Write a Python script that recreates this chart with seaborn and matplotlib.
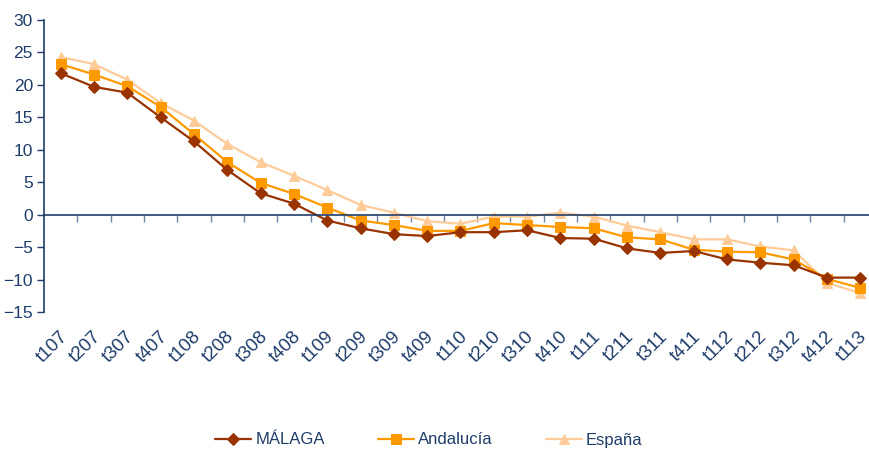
import matplotlib
matplotlib.use("Agg")
import matplotlib.pyplot as plt
import matplotlib.transforms as mtransforms
import pandas as pd
import seaborn as sns

# quarters on the x axis
periods = ["t107", "t207", "t307", "t407", "t108", "t208", "t308", "t408",
           "t109", "t209", "t309", "t409", "t110", "t210", "t310", "t410",
           "t111", "t211", "t311", "t411", "t112", "t212", "t312", "t412", "t113"]

malaga = [21.8, 19.7, 18.8, 15.0, 11.3, 6.9, 3.3, 1.7, -0.9, -2.1, -3.0, -3.3, -2.7,
          -2.7, -2.4, -3.6, -3.7, -5.2, -5.9, -5.6, -6.9, -7.4, -7.8, -9.7, -9.7]
andalucia = [23.2, 21.6, 19.8, 16.6, 12.4, 8.1, 4.9, 3.2, 1.1, -0.9, -1.6, -2.5, -2.5,
             -1.3, -1.6, -1.9, -2.1, -3.5, -3.8, -5.4, -5.7, -5.8, -6.9, -9.9, -11.3]
espana = [24.3, 23.2, 20.8, 17.2, 14.5, 10.9, 8.1, 6.0, 3.8, 1.5, 0.3, -1.0, -1.4,
          -0.3, -0.3, 0.3, -0.3, -1.7, -2.7, -3.8, -3.8, -4.9, -5.5, -10.5, -12.1]

series_names = ["MÁLAGA", "Andalucía", "España"]
colors = {"MÁLAGA": "#993300", "Andalucía": "#FF9900", "España": "#FFCC99"}
markers = {"MÁLAGA": "D", "Andalucía": "s", "España": "^"}

rows = []
for name, vals in zip(series_names, [malaga, andalucia, espana]):
    for i, v in enumerate(vals):
        rows.append({"pos": i, "serie": name, "valor": v})
df = pd.DataFrame(rows)

sns.set_theme(style="white")
plt.rcParams["font.family"] = ["Liberation Sans", "DejaVu Sans"]
navy = "#1F3D6B"

fig = plt.figure(figsize=(8.70, 4.51), dpi=100)
ax = fig.add_axes([44 / 870, 139 / 451, 833 / 870, 292 / 451])

# draw España first so it sits underneath
for name in ["España", "Andalucía", "MÁLAGA"]:
    sub = df[df["serie"] == name]
    sns.lineplot(data=sub, x="pos", y="valor", ax=ax, color=colors[name],
                 marker=markers[name], markersize=7 if name != "MÁLAGA" else 6.5,
                 markeredgecolor=colors[name], linewidth=1.6, label=name, sort=False)

ax.set_xlim(-0.5, len(periods) - 0.5)
ax.set_ylim(-15, 30)
ax.set_yticks(range(-15, 31, 5))
ax.set_xlabel("")
ax.set_ylabel("")

for side in ["top", "right"]:
    ax.spines[side].set_visible(False)
ax.spines["left"].set_color(navy)
ax.spines["left"].set_linewidth(1.2)
ax.spines["bottom"].set_position(("data", 0))
ax.spines["bottom"].set_color(navy)
ax.spines["bottom"].set_linewidth(1.2)

ax.tick_params(axis="y", direction="out", length=5, width=1, color=navy,
               labelcolor=navy, labelsize=12.5, left=True, pad=3)
# tick marks between categories, labels placed below the plot area
ax.set_xticks([i + 0.5 for i in range(len(periods) - 1)])
ax.set_xticklabels([])
ax.tick_params(axis="x", direction="out", length=5, width=1, color="#6F86A8", bottom=True)

trans = mtransforms.blended_transform_factory(ax.transData, ax.transAxes)
for i, lab in enumerate(periods):
    ax.text(i - 0.05, -0.055, lab, transform=trans, rotation=45, ha="right", va="top",
            rotation_mode="anchor", color=navy, fontsize=13.5)

handles, labels = ax.get_legend_handles_labels()
order = [labels.index(n) for n in series_names]
leg = fig.legend([handles[i] for i in order], [labels[i] for i in order],
                 loc="center", bbox_to_anchor=(429 / 870, 1 - 440 / 451), ncol=3,
                 frameon=False, fontsize=12, handlelength=2.15, columnspacing=3.2,
                 handletextpad=0.25)
ax.get_legend().remove()
for t in leg.get_texts():
    t.set_color(navy)

fig.savefig("out.png", dpi=100)
